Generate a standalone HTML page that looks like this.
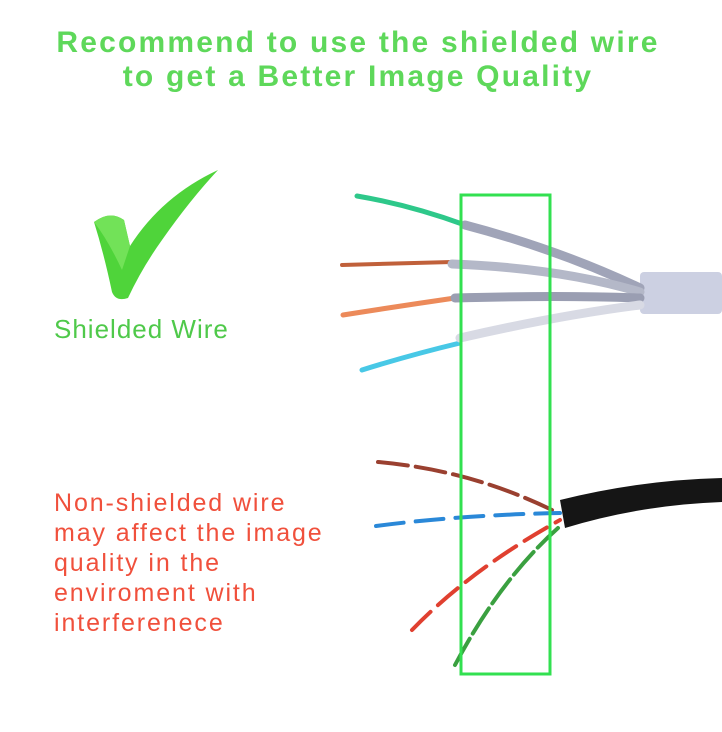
<!DOCTYPE html>
<html><head><meta charset="utf-8"><style>
html,body{margin:0;padding:0;background:#fff;width:722px;height:732px;overflow:hidden}
svg{display:block}
</style></head><body>
<svg width="722" height="732" viewBox="0 0 722 732" xmlns="http://www.w3.org/2000/svg">
<g font-family="Liberation Sans, sans-serif" font-weight="bold" font-size="30" fill="#5ed85a" text-anchor="middle" letter-spacing="2.2">
<text x="358" y="52">Recommend to use the shielded wire</text>
<text x="358" y="86">to get a Better Image Quality</text>
</g>
<!-- check mark -->
<path d="M94,222 Q110,210 124,220 L130,246 Q162,196 218,170 Q190,200 162,240 Q142,268 128,298 Q116,302 112,292 Q104,254 94,222 Z" fill="#4fd43a"/>
<path d="M94,222 Q110,210 124,220 L130,246 L122,270 Q108,240 94,222 Z" fill="#72e258"/>
<text x="54" y="338" font-family="Liberation Sans, sans-serif" font-size="26" fill="#4fc94a" letter-spacing="1">Shielded Wire</text>
<g font-family="Liberation Sans, sans-serif" font-size="25" fill="#f0503c" letter-spacing="1.9">
<text x="54" y="511">Non-shielded wire</text>
<text x="54" y="541">may affect the image</text>
<text x="54" y="571">quality in the</text>
<text x="54" y="601">enviroment with</text>
<text x="54" y="631">interferenece</text>
</g>
<!-- shielded cable -->
<rect x="640" y="272" width="82" height="42" rx="4" fill="#ccd0e2"/>
<g fill="none" stroke-linecap="round">
<path d="M357,196 Q410,205 465,225" stroke="#2ec88a" stroke-width="5"/>
<path d="M342,265 L452,262" stroke="#c0603a" stroke-width="4"/>
<path d="M343,315 Q400,306 455,298" stroke="#ec8a5a" stroke-width="5"/>
<path d="M362,370 Q410,355 460,343" stroke="#48c8e6" stroke-width="5"/>
<path d="M465,225 Q560,250 640,288" stroke="#a0a4b8" stroke-width="9"/>
<path d="M452,264 Q560,268 640,292" stroke="#b4b8c8" stroke-width="9"/>
<path d="M455,298 Q560,295 640,298" stroke="#9a9eb2" stroke-width="9"/>
<path d="M460,338 Q560,315 640,305" stroke="#d8dae4" stroke-width="9"/>
</g>
<!-- non-shielded cable -->
<path d="M560,500 Q640,480 722,478 L722,502 Q640,505 565,528 Z" fill="#151515"/>
<g fill="none" stroke-linecap="round" stroke-width="4">
<path d="M378,462 Q470,470 552,510" stroke="#9a4030" stroke-dasharray="30 8"/>
<path d="M376,526 Q460,515 560,513" stroke="#2a88d8" stroke-dasharray="28 12"/>
<path d="M412,630 Q470,570 560,520" stroke="#e04030" stroke-dasharray="26 10"/>
<path d="M455,665 Q500,580 558,528" stroke="#3aa040" stroke-dasharray="30 6"/>
</g>
<rect x="461" y="195" width="89" height="479" fill="none" stroke="#32e050" stroke-width="3"/>
</svg>
</body></html>
